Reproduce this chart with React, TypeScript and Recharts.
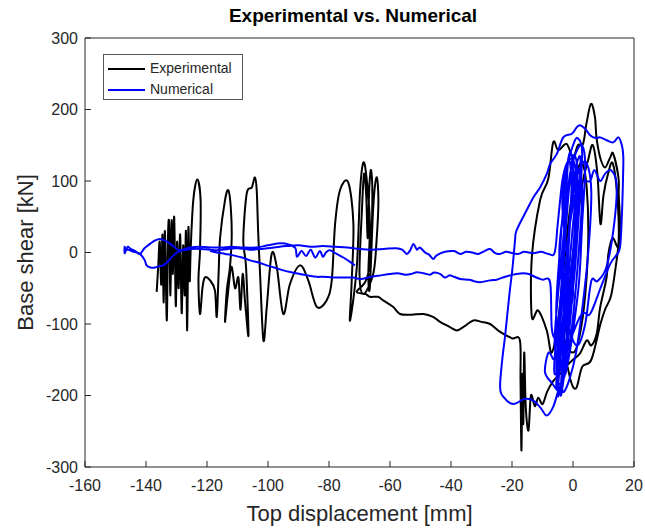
import { Label, Line, LineChart, XAxis, YAxis } from "recharts";

// Hysteresis traces, [top displacement mm, base shear kN].
const X_TICKS = [-160, -140, -120, -100, -80, -60, -40, -20, 0, 20];
const Y_TICKS = [-300, -200, -100, 0, 100, 200, 300];

const expLeftCycles: [number, number][] = [
  [-136.5, -55], [-136, -20], [-135.5, 15], [-135, -45], [-134.6, 25], [-134.2, -70],
  [-133.8, 30], [-133.2, -95], [-132.8, 20], [-132.4, 40], [-132, -60], [-131.6, 45],
  [-131.2, -30], [-130.8, 50], [-130.5, -10], [-130.2, -75], [-129.8, 15], [-129.3, -50],
  [-128.8, 25], [-128.3, -85], [-127.8, 10], [-127.3, -60], [-126.9, 30], [-126.5, -109],
  [-126.1, 35], [-125.7, -40], [-125.3, 10], [-124.5, 73], [-123.2, 102], [-122.1, 73],
  [-122.3, 3], [-122.8, -39], [-122.3, -86], [-121.5, -50], [-120.7, -35], [-119, -39],
  [-117.4, -53], [-116.8, -90],
];

const expMidCycles: [number, number][] = [
  [-116.2, -30], [-115.7, 21], [-114.1, 73], [-113, 87], [-112.2, 63], [-111.9, 21],
  [-112.5, -21], [-113.5, -53], [-114.1, -97], [-113.2, -60], [-112, -20], [-110.8, -50],
  [-109.7, -35], [-109, -80], [-108.3, -30], [-107.5, -70], [-106.4, -116], [-107.2, -20],
  [-108.1, 17], [-107, 82], [-105.3, 91], [-104.3, 105], [-103.7, 87], [-103.2, 26],
  [-102.6, -30], [-101.5, -123], [-100.4, -76], [-98.8, -2], [-97.1, -21], [-95, -86],
  [-92.8, -44], [-89.5, -18], [-86.8, -39], [-84, -76], [-80.8, -67], [-79.1, -39],
  [-78, 40], [-76.4, 87], [-73.7, 98], [-72, 40], [-72.6, -44], [-73.1, -95],
  [-70.9, -21], [-69.8, 87], [-68.7, 126], [-67.6, 101], [-66.6, 40], [-67.1, -30],
  [-66.6, -48], [-65.5, 63], [-64.4, 105], [-63.8, 73], [-64.4, 17], [-65.5, -30],
  [-68.7, -58], [-70, -30], [-69.2, 60], [-68.5, 110], [-67.8, 80], [-67.3, 20],
  [-66.8, 90], [-66.2, 115], [-65.8, 70], [-66.5, -10], [-68, -40], [-70.9, -55],
];

const expBackbone: [number, number][] = [
  [-68, -58], [-66.6, -62], [-64, -62], [-62.2, -67], [-59, -76], [-56.7, -86],
  [-53, -87], [-49, -86], [-45.9, -90], [-43.6, -97], [-40.5, -104], [-38.1, -109],
  [-35.5, -103], [-32.7, -95], [-30, -97], [-27.2, -100], [-23.9, -111], [-20, -120],
  [-17.4, -123],
];

const expRightCycles: [number, number][] = [
  [-17.2, -180], [-16.9, -277], [-16.6, -170], [-16.3, -240], [-16, -140], [-15.5, -215],
  [-14.6, -249], [-13.8, -200], [-12.5, -215], [-11.4, -203], [-10, -212], [-8.5, -195],
  [-6.5, -180], [-4.3, -170], [-2, -158], [0, -150], [2.3, -141], [4.5, -123],
  [6, -130], [7.8, -113], [8.9, -77], [11, -35], [11.6, -2], [13, 20],
  [14.9, 7], [15.4, 40], [15, 80], [14.9, 105], [13.2, 138], [12.2, 133],
  [10.5, 119], [8.9, 133], [7.7, 161], [7.2, 189], [5.9, 208], [4.4, 180],
  [3.3, 152], [1.6, 150], [0, 133], [-2.1, 152], [-4.8, 143], [-6.5, 154],
  [-8.1, 103], [-10.8, 73], [-13.5, -7], [-13.5, -90], [-11.4, -81], [-8.6, -109],
  [-7, -140], [-5, -100], [-3, -20], [-1, 60], [1.2, 110], [3, 125],
  [4.5, 90], [5, 20], [4, -60], [2, -120], [0, -140], [-2, -120],
  [-1, -40], [1, 30], [3, 95], [5, 130], [6.5, 150], [8, 110],
  [9, 40], [10, 80], [11.5, 110], [13, 125], [14.5, 80], [15, 20],
  [14, -20], [12.5, -60], [10.5, -80], [9, -100], [6, -150], [3, -160],
  [1, -190], [-1, -175], [-3, -120], [-2, -40],
];

const numLeftPath: [number, number][] = [
  [-71.5, -18], [-73.5, -12], [-75.3, -7], [-77.5, -2], [-79.7, 3], [-81, 0],
  [-82, -6], [-83, 2], [-84.5, -7], [-86, 4], [-87.5, -5], [-89, 2],
  [-90.5, -6], [-91, 6], [-93, 11], [-96, 13], [-100, 10], [-104, 7],
  [-108, 7], [-112, 8], [-115, 7], [-118, 7], [-122.3, 8], [-125.6, 7],
  [-128.9, 3], [-130.5, 7], [-132.1, 12], [-133.5, 16], [-135.4, 19], [-137, 17],
  [-138.7, 12], [-140.5, 6], [-142, -2], [-143.5, 2], [-145, 5], [-146, 8],
  [-146.6, 2], [-147, 8], [-147, -1], [-146.3, 4], [-144, 1], [-142, -2],
  [-140.5, -10], [-139.8, -18], [-138.5, -21], [-137, -21], [-135.5, -19], [-134.3, -18],
  [-132.7, -12], [-131, -4], [-129.5, 1], [-127.8, 3], [-125, 5], [-122, 5],
  [-119, 4], [-116.8, 3], [-113, 5], [-110, 6], [-106, 4], [-102, 5],
  [-98, 7], [-94, 9], [-90, 10], [-86, 8], [-82, 9], [-78, 8],
  [-74, 7], [-70, 5], [-66, 4], [-62, 5], [-58, 6], [-56, 4],
  [-54.5, -2], [-53.4, 3], [-52.3, 12], [-51.2, 4], [-50.2, 7], [-48.5, 0],
  [-47.2, -3], [-45.8, -9], [-44.7, -4], [-42, 1], [-39, 2], [-37, -2],
  [-35, 1], [-33, 0], [-31, -2], [-29, 2], [-27.2, 5], [-25.5, -1],
  [-24, -2], [-22, 1], [-20.7, 0], [-18, -2], [-16, 1], [-13, -1],
  [-10.5, 1], [-8, -2], [-6, 0],
];

const numCluster1: [number, number][] = [
  [-5, 40], [-3.5, 100], [-2, 125], [0, 130], [1, 100], [0.5, 20],
  [-1, -60], [-3, -120], [-5, -150], [-6, -120], [-4.5, -40], [-2.5, 50],
  [-1, 110], [1, 140], [3, 150], [4, 120], [3, 40], [2, -40],
  [0, -110], [-2, -160], [-4, -185], [-5.5, -160], [-3.5, -70], [-1.5, 20],
  [0.5, 90], [2.5, 120], [4.5, 125], [6, 85], [5, 0], [3, -80],
  [1, -140], [-1, -175], [-3, -195], [-4.3, -188],
];

const numEnvelope: [number, number][] = [
  [-6.5, -216], [-8.6, -228], [-10.5, -218], [-13, -207], [-16, -205], [-19.6, -212],
  [-22.8, -202], [-23.9, -188], [-23.2, -150], [-22.3, -118], [-21.5, -85], [-20.7, -53],
  [-19.8, -20], [-19, 17], [-18.5, 31], [-15.2, 59], [-13, 77], [-10.8, 91],
  [-8.6, 110], [-7.5, 124], [-5.3, 138], [-3.2, 161], [-0.4, 166], [1.2, 175],
  [2.3, 178], [4, 173], [5.6, 164], [7.5, 160], [8.9, 161], [11, 157],
  [13.2, 154], [14.9, 161], [16, 150], [16.5, 133], [16.3, 87], [16, 49],
  [15.4, 7], [14, -5], [12.2, -16], [9, -50], [5.6, -86], [2.3, -90],
];

const numCluster3: [number, number][] = [
  [-6, -170], [-4, -60], [-2.5, 60], [-1.5, 130], [-0.5, 90], [-2, -20],
  [-4, -130], [-5.5, -190], [-4.5, -110], [-3, -10], [-1.5, 80], [0, 135],
  [1.5, 110], [0.5, 10], [-1.5, -100], [-3.5, -175], [-5, -200], [-4, -140],
  [-2, -30], [-0.5, 70], [1, 120], [2.5, 130], [1.5, 50], [0, -50],
  [-2, -140], [-4, -200], [-3, -120], [-1, -10], [0.5, 60], [2, 100],
  [3, 80], [1.5, -20], [-0.5, -110], [-2.5, -170], [-4.5, -150], [-5.5, -80],
  [-4, 20], [-2.5, 100], [-1, 140], [0, 110], [-1.5, 20], [-3, -80],
  [-4.5, -130],
];

const numCluster2: [number, number][] = [
  [0, -60], [-2, 0], [-3.5, 70], [-2, 120], [0, 150], [1.5, 160],
  [3, 140], [2, 60], [0.5, -30], [-1.5, -100], [-3.5, -150], [-5, -130],
  [-3, -50], [-1, 40], [1.5, 90], [3.5, 100], [5.6, 100], [7, 115],
  [8.9, 100], [10.5, 110], [12.5, 115], [14.3, 96], [13.5, 40], [11, -20],
  [8, -40], [6, -40], [4, -100], [1.5, -130], [-1, -110], [-3, -60],
  [-4.5, 0], [-3, 60], [-1, 100], [1, 80], [0, 0], [-2, -80],
  [-4, -130], [-6, -150], [-8, -140], [-9.2, -167], [-7, -182], [-4.3, -193],
  [-3, -160], [-4.5, -120], [-6, -120], [-7, -104], [-7.5, -42],
];

const numReturn: [number, number][] = [
  [-10, -38], [-12, -35], [-14.5, -30], [-16.4, -29], [-18.5, -30], [-20.7, -32],
  [-23, -35], [-25, -38], [-27.2, -39], [-30.5, -41.5], [-32.5, -40], [-34, -38],
  [-37, -37], [-39, -34], [-40.5, -32], [-42, -35], [-43.6, -30], [-45.5, -28],
  [-47, -31], [-49, -29], [-51.2, -27.5], [-53, -30], [-55, -31], [-57.5, -29],
  [-60, -30], [-63, -32], [-66, -34], [-69.8, -37], [-72, -35], [-75, -35],
  [-78.6, -35], [-82, -34], [-84, -34], [-87, -32], [-89.5, -30], [-92, -28],
  [-95, -25], [-98, -21], [-100.4, -18], [-103, -14], [-105.9, -11], [-108.5, -7],
  [-111.4, -4], [-114, -2], [-116.8, 0], [-119, 2],
];

const toPoints = (...parts: [number, number][][]) =>
  parts.flat().map(([x, y]) => ({ x, y }));

const experimental = toPoints(expLeftCycles, expMidCycles, expBackbone, expRightCycles);
const numerical = toPoints(
  numLeftPath, numCluster1, numEnvelope, numCluster3, numCluster2, numReturn,
);

// parametric catmull-rom so the loops come out smooth (d3 curve factory shape)
function smoothLoop(context: any) {
  let pts: number[][] = [];
  return {
    areaStart() {},
    areaEnd() {},
    lineStart() {
      pts = [];
    },
    point(x: number, y: number) {
      pts.push([+x, +y]);
    },
    lineEnd() {
      if (!pts.length) return;
      context.moveTo(pts[0][0], pts[0][1]);
      for (let i = 0; i < pts.length - 1; i++) {
        const p0 = pts[Math.max(i - 1, 0)];
        const p1 = pts[i];
        const p2 = pts[i + 1];
        const p3 = pts[Math.min(i + 2, pts.length - 1)];
        context.bezierCurveTo(
          p1[0] + (p2[0] - p0[0]) / 6,
          p1[1] + (p2[1] - p0[1]) / 6,
          p2[0] - (p3[0] - p1[0]) / 6,
          p2[1] - (p3[1] - p1[1]) / 6,
          p2[0],
          p2[1],
        );
      }
    },
  };
}

const FONT = '"Liberation Sans", Arial, sans-serif';
const AXIS = "#262626";
const TICK = { fontSize: 16, fill: AXIS, fontFamily: FONT };

export default function App() {
  return (
    <div style={{ position: "relative", width: 645, height: 531, fontFamily: FONT }}>
      <style>{"body{margin:0}"}</style>
      <div
        style={{
          position: "absolute",
          left: 0,
          width: 706,
          top: 5,
          textAlign: "center",
          fontWeight: "bold",
          fontSize: 19,
          color: "#000",
        }}
      >
        Experimental vs. Numerical
      </div>
      <LineChart width={645} height={531} margin={{ top: 37, right: 10, bottom: 0, left: 25 }}>
        <XAxis
          type="number"
          dataKey="x"
          domain={[-160, 20]}
          ticks={X_TICKS}
          interval={0}
          allowDataOverflow
          height={64}
          stroke={AXIS}
          tickSize={-6}
          tickMargin={19}
          tick={TICK}
        >
          <Label
            content={({ viewBox }: any) => (
              <text
                x={viewBox.x + viewBox.width / 2}
                y={viewBox.y + viewBox.height - 10}
                textAnchor="middle"
                fontSize={22}
                fontFamily={FONT}
                fill={AXIS}
              >
                Top displacement [mm]
              </text>
            )}
          />
        </XAxis>
        <XAxis
          xAxisId="top"
          orientation="top"
          type="number"
          dataKey="x"
          domain={[-160, 20]}
          ticks={X_TICKS}
          interval={0}
          height={1}
          stroke={AXIS}
          tickSize={-6}
          tick={false}
        />
        <YAxis
          type="number"
          domain={[-300, 300]}
          ticks={Y_TICKS}
          interval={0}
          allowDataOverflow
          width={60}
          stroke={AXIS}
          tickSize={-6}
          tickMargin={13}
          tick={TICK}
        >
          <Label
            content={({ viewBox }: any) => {
              const cx = viewBox.x;
              const cy = viewBox.y + viewBox.height / 2;
              return (
                <text
                  x={cx}
                  y={cy}
                  transform={`rotate(-90 ${cx} ${cy})`}
                  textAnchor="middle"
                  dominantBaseline="central"
                  fontSize={22}
                  fontFamily={FONT}
                  fill={AXIS}
                >
                  Base shear [kN]
                </text>
              );
            }}
          />
        </YAxis>
        <YAxis
          yAxisId="right"
          orientation="right"
          type="number"
          domain={[-300, 300]}
          ticks={Y_TICKS}
          interval={0}
          width={1}
          stroke={AXIS}
          tickSize={-6}
          tick={false}
        />
        <Line
          data={experimental}
          dataKey="y"
          name="Experimental"
          type={smoothLoop as any}
          stroke="#000"
          strokeWidth={2}
          dot={false}
          isAnimationActive={false}
        />
        <Line
          data={numerical}
          dataKey="y"
          name="Numerical"
          type={smoothLoop as any}
          stroke="#0000ff"
          strokeWidth={2}
          dot={false}
          isAnimationActive={false}
        />
      </LineChart>
      <div
        style={{
          position: "absolute",
          left: 103,
          top: 54,
          width: 138,
          height: 44,
          border: "1px solid #555",
          background: "#fff",
          fontSize: 14,
          color: AXIS,
        }}
      >
        {[
          { label: "Experimental", color: "#000", top: 5 },
          { label: "Numerical", color: "#0000ff", top: 26 },
        ].map((row) => (
          <div
            key={row.label}
            style={{ position: "absolute", left: 4, top: row.top, display: "flex", alignItems: "center", height: 17 }}
          >
            <span style={{ width: 37, height: 2, background: row.color, display: "inline-block" }} />
            <span style={{ marginLeft: 5, lineHeight: "17px" }}>{row.label}</span>
          </div>
        ))}
      </div>
    </div>
  );
}
